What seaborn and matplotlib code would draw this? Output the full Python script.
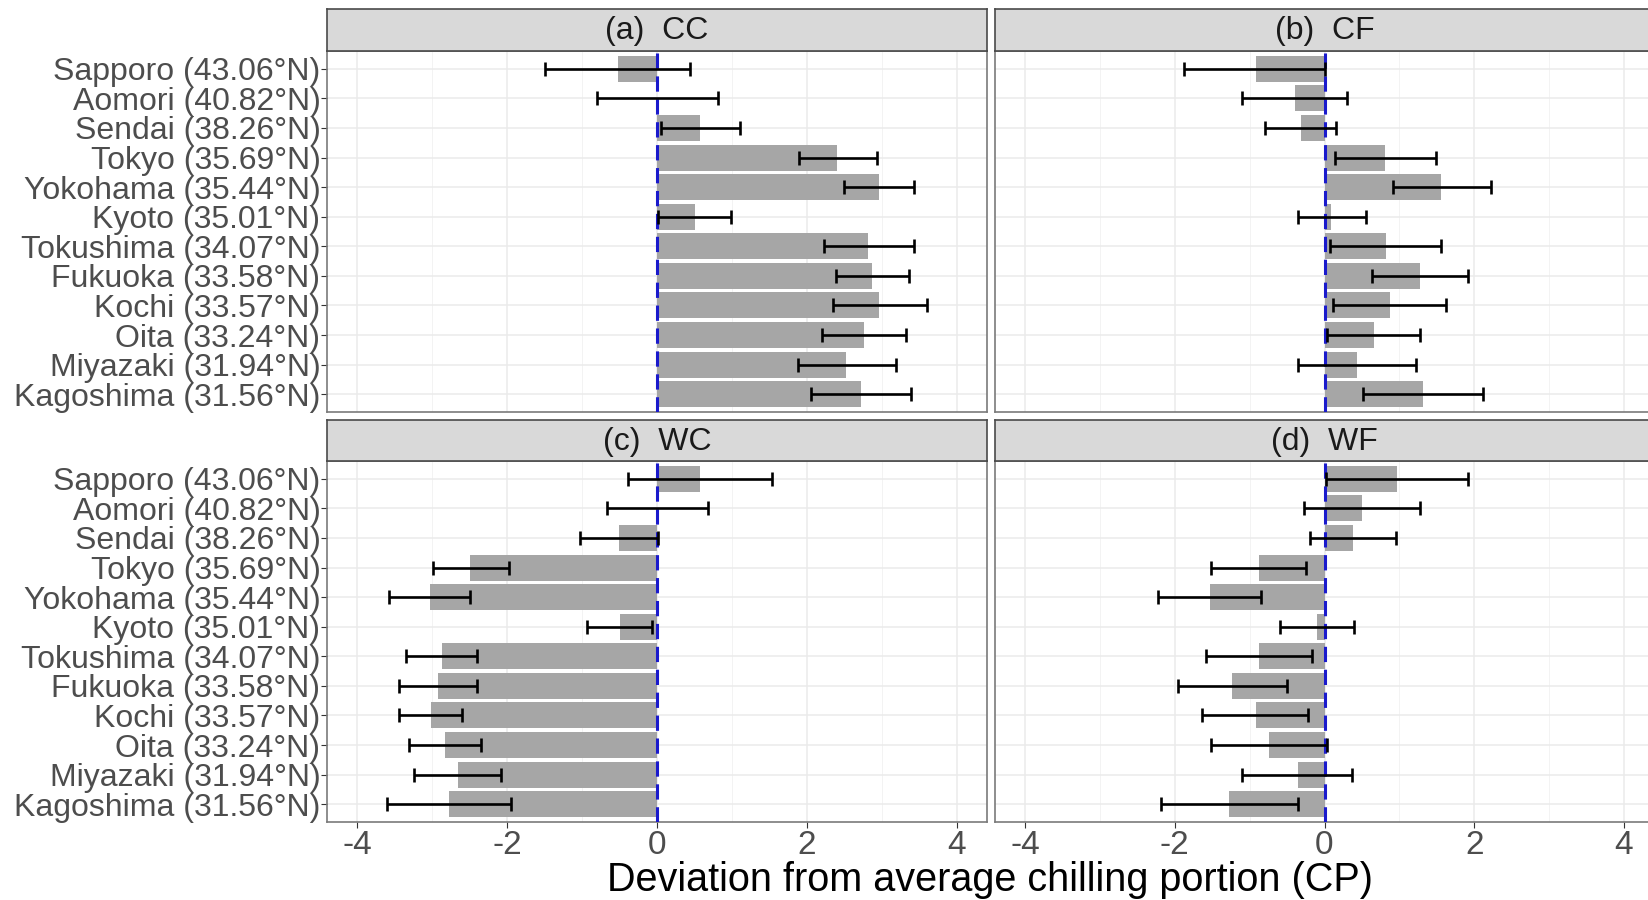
import numpy as np
import pandas as pd
import matplotlib
matplotlib.use("Agg")
import matplotlib.pyplot as plt
import seaborn as sns

# ---------------- data ----------------
cities = ["Sapporo (43.06°N)", "Aomori (40.82°N)", "Sendai (38.26°N)", "Tokyo (35.69°N)",
          "Yokohama (35.44°N)", "Kyoto (35.01°N)", "Tokushima (34.07°N)", "Fukuoka (33.58°N)",
          "Kochi (33.57°N)", "Oita (33.24°N)", "Miyazaki (31.94°N)", "Kagoshima (31.56°N)"]

panel_titles = ["(a)  CC", "(b)  CF", "(c)  WC", "(d)  WF"]

cc_mean = [-0.52, 0.00, 0.58, 2.41, 2.96, 0.51, 2.82, 2.87, 2.97, 2.76, 2.53, 2.72]
cc_low  = [-1.49, -0.80, 0.06, 1.89, 2.50, 0.02, 2.23, 2.39, 2.35, 2.21, 1.88, 2.06]
cc_high = [0.44, 0.81, 1.11, 2.94, 3.43, 0.99, 3.43, 3.36, 3.60, 3.33, 3.19, 3.39]

cf_mean = [-0.92, -0.39, -0.32, 0.81, 1.56, 0.09, 0.82, 1.27, 0.87, 0.66, 0.43, 1.32]
cf_low  = [-1.88, -1.10, -0.80, 0.14, 0.91, -0.35, 0.07, 0.64, 0.12, 0.04, -0.36, 0.52]
cf_high = [0.01, 0.30, 0.16, 1.49, 2.22, 0.56, 1.56, 1.91, 1.62, 1.28, 1.22, 2.12]

wc_mean = [0.57, 0.00, -0.51, -2.49, -3.03, -0.50, -2.87, -2.92, -3.02, -2.83, -2.66, -2.77]
wc_low  = [-0.38, -0.67, -1.03, -2.99, -3.58, -0.94, -3.35, -3.45, -3.45, -3.31, -3.25, -3.60]
wc_high = [1.53, 0.68, 0.01, -1.97, -2.50, -0.06, -2.40, -2.40, -2.60, -2.35, -2.08, -1.95]

wf_mean = [0.97, 0.50, 0.38, -0.88, -1.53, -0.10, -0.88, -1.23, -0.92, -0.74, -0.36, -1.27]
wf_low  = [0.02, -0.27, -0.20, -1.52, -2.22, -0.59, -1.58, -1.95, -1.64, -1.51, -1.10, -2.18]
wf_high = [1.92, 1.27, 0.96, -0.25, -0.85, 0.39, -0.17, -0.50, -0.22, 0.03, 0.37, -0.36]

x_ticks = [-4, -2, 0, 2, 4]
x_label = "Deviation from average chilling portion (CP)"

panels = [
    (panel_titles[0], cc_mean, cc_low, cc_high),
    (panel_titles[1], cf_mean, cf_low, cf_high),
    (panel_titles[2], wc_mean, wc_low, wc_high),
    (panel_titles[3], wf_mean, wf_low, wf_high),
]

# ---------------- style ----------------
sns.set_theme(style="white")
plt.rcParams["font.family"] = ["Liberation Sans", "DejaVu Sans"]

W, H = 1648, 900
fig = plt.figure(figsize=(W / 100, H / 100), dpi=100)

BAR = "#a6a6a6"
GRID = "#ebebeb"
TXT = "#4d4d4d"

# pixel geometry (left, top, right, bottom)
cols = [(327.4, 986.5), (995.0, 1654.0)]
rows = [(9.0, 51.0, 412.0), (420.0, 461.0, 822.0)]


def rect(x0, x1, ytop, ybot):
    return [x0 / W, 1 - ybot / H, (x1 - x0) / W, (ybot - ytop) / H]


for i, (title, mean, low, high) in enumerate(panels):
    r, c = divmod(i, 2)
    x0, x1 = cols[c]
    stop, sbot, pbot = rows[r]

    ax = fig.add_axes(rect(x0, x1, sbot, pbot))
    df = pd.DataFrame({"city": cities, "val": mean})
    sns.barplot(data=df, x="val", y="city", orient="h", color=BAR, saturation=1,
                width=0.88, errorbar=None, ax=ax, zorder=2, linewidth=0)

    ax.axvline(0, color="#1a1acc", lw=2.2, ls=(0, (5, 2.5)), zorder=3)

    lo = np.array(low)
    hi = np.array(high)
    ctr = (lo + hi) / 2
    ax.errorbar(ctr, np.arange(len(cities)), xerr=[ctr - lo, hi - ctr], fmt="none",
                ecolor="black", elinewidth=1.9, capsize=5, capthick=1.9, zorder=4)

    ax.set_xlim(-4.4, 4.4)
    ax.set_ylim(len(cities) - 0.4, -0.6)
    ax.set_xticks(x_ticks)
    ax.set_xticks([-3, -1, 1, 3], minor=True)
    ax.grid(True, which="major", color=GRID, lw=1.1, zorder=0)
    ax.grid(True, which="minor", axis="x", color="#f3f3f3", lw=0.7, zorder=0)
    ax.set_axisbelow(True)
    ax.set_xlabel("")
    ax.set_ylabel("")

    if c == 0:
        ax.tick_params(axis="y", length=4, width=0.8, color="#333333", labelsize=23,
                       labelcolor=TXT, pad=1, left=True)
    else:
        ax.tick_params(axis="y", left=False, labelleft=False)
    if r == 1:
        ax.tick_params(axis="x", length=4, width=0.8, color="#333333", labelsize=24,
                       labelcolor=TXT, pad=2, bottom=True)
        ax.set_xticklabels([str(t) for t in x_ticks])
    else:
        ax.tick_params(axis="x", bottom=False, labelbottom=False, which="both")
    ax.tick_params(axis="x", which="minor", bottom=False)

    for s in ax.spines.values():
        s.set_color("#7a7a7a")
        s.set_linewidth(1.2)

    # strip
    sax = fig.add_axes(rect(x0, x1, stop, sbot))
    sax.set_facecolor("#d9d9d9")
    sax.set_xticks([])
    sax.set_yticks([])
    for s in sax.spines.values():
        s.set_color("#4a4a4a")
        s.set_linewidth(1.2)
    sax.text(0.5, 0.47, title, ha="center", va="center", fontsize=23, color="#1a1a1a",
             transform=sax.transAxes)

fig.text(990 / W, 1 - 880 / H, x_label, ha="center", va="center", fontsize=28.5, color="black")

fig.savefig("out.png", dpi=100, facecolor="white")
